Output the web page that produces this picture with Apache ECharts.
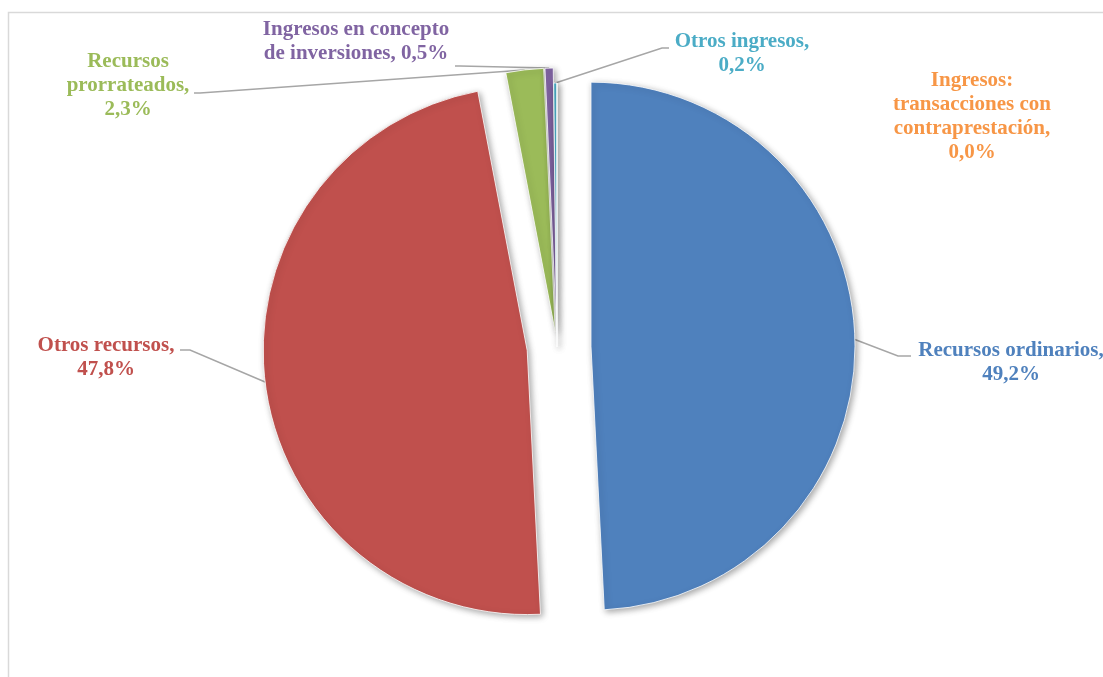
<!DOCTYPE html>
<html>
<head>
<meta charset="utf-8">
<script src="https://cdn.jsdelivr.net/npm/echarts@6/dist/echarts.min.js"></script>
<style>
html,body{margin:0;padding:0;background:#fff;}
#chart{width:1103px;height:677px;}
</style>
</head>
<body>
<div id="chart"></div>
<script>
// ---- data ----
const categories = [
  'Recursos ordinarios',
  'Otros recursos',
  'Recursos\nprorrateados',
  'Ingresos en concepto\nde inversiones',
  'Otros ingresos',
  'Ingresos:\ntransacciones con\ncontraprestación'
];
const values = [49.2, 47.8, 2.3, 0.5, 0.2, 0.0];

// ---- styles / layout ----
const colors = ['#4f81bd', '#c0504d', '#9bbb59', '#8064a2', '#4bacc6', '#f79646'];
const valueSep = ['\n', '\n', '\n', ' ', '\n', '\n'];
const explode = [34, 30, 15, 15, 0, 0];
const labelPos = [[1011, 363], [106, 358], [128, 86], [356, 42], [742, 54], [972, 117]];
const leaderTail = [
  [[898, 356], [911, 356]],
  [[190, 350], [180, 350]],
  [[200, 93], [194, 93]],
  [[460, 66], [455, 66]],
  [[662, 48], [669, 48]],
  null
];
const CX = 557, CY = 347, R = 264;

const total = values.reduce((a, b) => a + b, 0);
const midAngles = [];
let acc = 0;
values.forEach(v => { midAngles.push((acc + v / 2) / total * 2 * Math.PI); acc += v; });

function fmt(v) { return v.toFixed(1).replace('.', ',') + '%'; }

const chart = echarts.init(document.getElementById('chart'), null, { renderer: 'canvas' });

const series = categories.map((cat, j) => {
  const a = midAngles[j];
  const cx = CX + explode[j] * Math.sin(a);
  const cy = CY - explode[j] * Math.cos(a);
  const anchor = [cx + R * Math.sin(a), cy - R * Math.cos(a)];
  return {
    type: 'pie',
    center: [cx, cy],
    radius: [0, R],
    startAngle: 90,
    clockwise: true,
    avoidLabelOverlap: false,
    silent: true,
    animation: false,
    emphasis: { disabled: true },
    label: {
      show: true,
      fontFamily: 'Liberation Serif',
      fontWeight: 'bold',
      fontSize: 21,
      lineHeight: 24,
      align: 'center',
      formatter: p => p.name + ',' + valueSep[p.dataIndex] + fmt(p.value)
    },
    labelLine: { show: true, lineStyle: { color: '#a6a6a6', width: 1.5 } },
    labelLayout: function (params) {
      const i = params.dataIndex;
      const res = { x: labelPos[i][0], y: labelPos[i][1], align: 'center', verticalAlign: 'middle' };
      if (leaderTail[i]) res.labelLinePoints = [anchor, leaderTail[i][0], leaderTail[i][1]];
      return res;
    },
    data: categories.map((name, i) => {
      const on = i === j;
      return {
        name: name,
        value: values[i],
        itemStyle: on ? {
          color: colors[i],
          borderColor: '#ffffff',
          borderWidth: 0.8,
          shadowBlur: 6,
          shadowOffsetX: 2,
          shadowOffsetY: 2,
          shadowColor: 'rgba(0,0,0,0.35)'
        } : {
          color: 'rgba(0,0,0,0)',
          borderWidth: 0,
          shadowBlur: 0,
          shadowColor: 'rgba(0,0,0,0)'
        },
        label: on ? { show: true, color: colors[i] } : { show: false },
        labelLine: { show: on && leaderTail[i] !== null }
      };
    })
  };
});

chart.setOption({
  backgroundColor: '#ffffff',
  animation: false,
  graphic: [{
    type: 'rect',
    shape: { x: 8.5, y: 12.5, width: 1200, height: 800 },
    style: { fill: 'none', stroke: '#d9d9d9', lineWidth: 1.5 },
    silent: true,
    z: -10
  }],
  series: series
});
</script>
</body>
</html>
